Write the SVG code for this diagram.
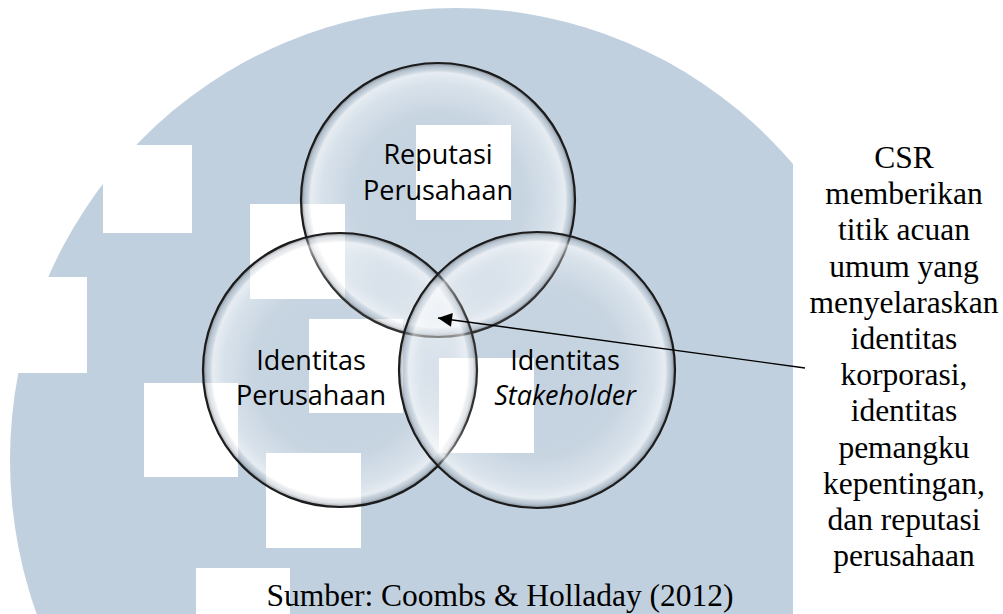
<svg xmlns="http://www.w3.org/2000/svg" width="1003" height="614" viewBox="0 0 1003 614">
  <defs>
    <clipPath id="bgclip"><rect x="0" y="0" width="793" height="614"/></clipPath>
    <radialGradient id="glass" cx="0.5" cy="0.5" r="0.5">
      <stop offset="0" stop-color="#ffffff" stop-opacity="0.05"/>
      <stop offset="0.62" stop-color="#ffffff" stop-opacity="0.1"/>
      <stop offset="0.85" stop-color="#ffffff" stop-opacity="0.38"/>
      <stop offset="0.93" stop-color="#ffffff" stop-opacity="0.6"/>
      <stop offset="0.97" stop-color="#a9b3bd" stop-opacity="0.35"/>
      <stop offset="1" stop-color="#4a4f55" stop-opacity="0.6"/>
    </radialGradient>
    <marker id="arrow" viewBox="0 0 10 10" refX="10" refY="5" markerWidth="16" markerHeight="14" markerUnits="userSpaceOnUse" orient="auto">
      <path d="M0,0 L10,5 L0,10 z" fill="#000"/>
    </marker>
    <style>
      .sq { fill: #ffffff; }
      .venn { fill: url(#glass); stroke: #1c1c1c; stroke-width: 2.2; }
      .lbl { font-family: "Open Sans", "Noto Sans", sans-serif; font-size: 27px; fill: #000; text-anchor: middle; }
      .note { font-family: "Liberation Serif", "Times New Roman", serif; font-size: 31.5px; fill: #000; text-anchor: middle; }
    </style>
  </defs>

  <rect x="0" y="0" width="1003" height="614" fill="#ffffff"/>

  <g id="background">
    <ellipse cx="456" cy="460" rx="446" ry="452" fill="#c1d0de" clip-path="url(#bgclip)"/>
    <rect class="sq" x="103" y="145" width="89" height="88"/>
    <rect class="sq" x="0" y="277" width="87" height="96"/>
    <rect class="sq" x="144" y="383" width="94" height="94"/>
    <rect class="sq" x="250" y="204" width="95" height="95"/>
    <rect class="sq" x="309" y="319" width="94" height="94"/>
    <rect class="sq" x="416" y="125" width="95" height="95"/>
    <rect class="sq" x="439" y="358" width="95" height="95"/>
    <rect class="sq" x="266" y="453" width="95" height="95"/>
    <rect class="sq" x="196" y="568" width="94" height="46"/>
  </g>

  <g id="node-reputasi">
    <circle class="venn" cx="438" cy="200" r="137"/>
    <text class="lbl" x="438" y="164">Reputasi</text>
    <text class="lbl" x="438" y="200">Perusahaan</text>
  </g>

  <g id="node-identitas-perusahaan">
    <circle class="venn" cx="340" cy="370" r="137"/>
    <text class="lbl" x="311" y="370">Identitas</text>
    <text class="lbl" x="311" y="405">Perusahaan</text>
  </g>

  <g id="node-identitas-stakeholder">
    <circle class="venn" cx="537" cy="370" r="138"/>
    <text class="lbl" x="565" y="370">Identitas</text>
    <text class="lbl" x="565" y="405" font-style="italic">Stakeholder</text>
  </g>

  <g id="connectors">
    <line x1="805" y1="368" x2="438" y2="318" stroke="#000" stroke-width="1.4" marker-end="url(#arrow)"/>
  </g>

  <g id="node-csr-note">
    <text class="note" x="904" y="168">CSR</text>
    <text class="note" x="904" y="204">memberikan</text>
    <text class="note" x="904" y="240">titik acuan</text>
    <text class="note" x="904" y="277">umum yang</text>
    <text class="note" x="904" y="313">menyelaraskan</text>
    <text class="note" x="904" y="349">identitas</text>
    <text class="note" x="904" y="385">korporasi,</text>
    <text class="note" x="904" y="421">identitas</text>
    <text class="note" x="904" y="458">pemangku</text>
    <text class="note" x="904" y="494">kepentingan,</text>
    <text class="note" x="904" y="530">dan reputasi</text>
    <text class="note" x="904" y="566">perusahaan</text>
  </g>

  <g id="caption">
    <text class="note" x="500" y="606" font-size="32.5">Sumber: Coombs &amp; Holladay (2012)</text>
  </g>
</svg>
